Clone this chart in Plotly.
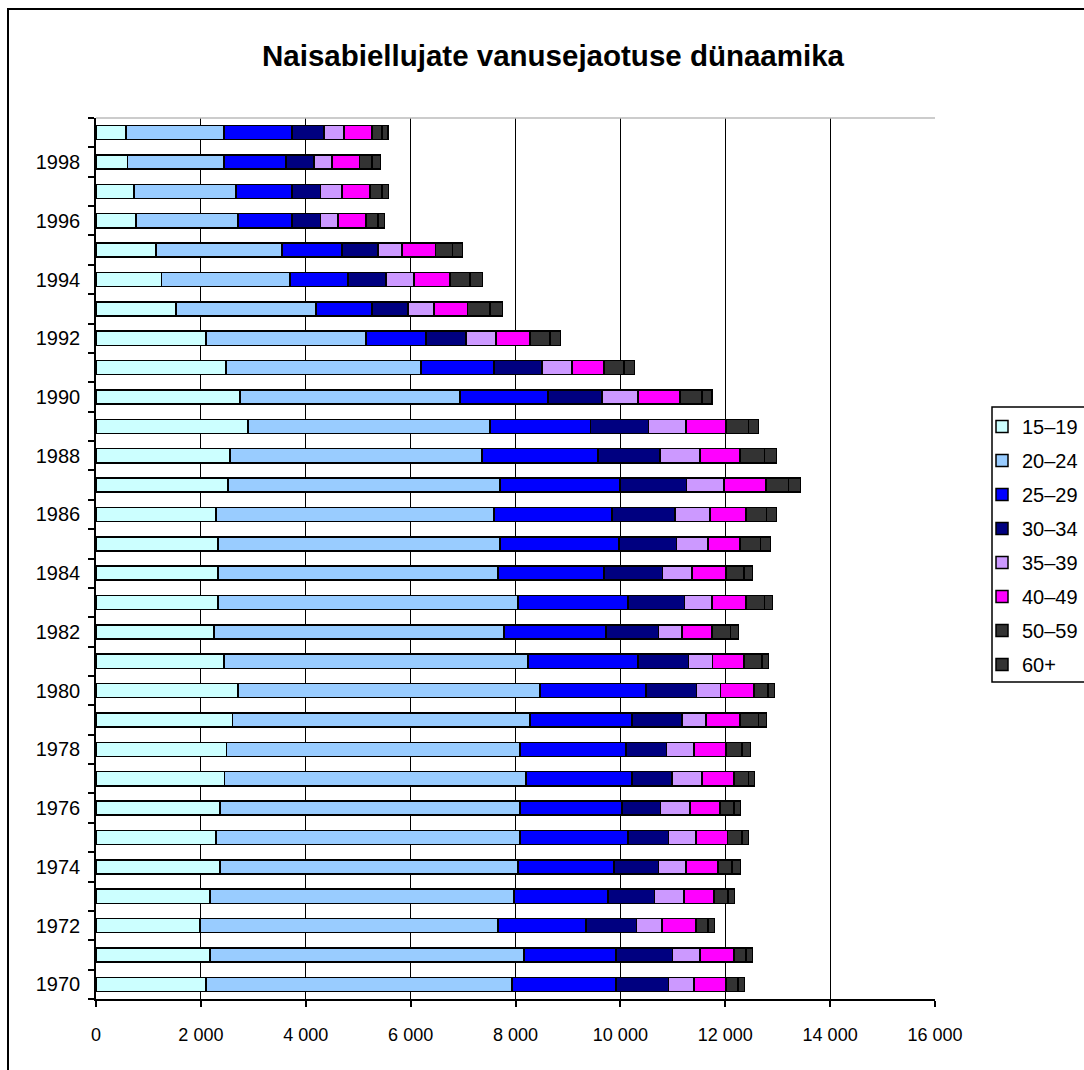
import plotly.graph_objects as go

# age-group counts of brides per year, 1970..1999
years = list(range(1970, 2000))

age_15_19 = [2098, 2174, 1983, 2174, 2365, 2288, 2365, 2447, 2486, 2600,
             2708, 2441, 2250, 2327, 2327, 2327, 2288, 2517, 2555, 2899,
             2746, 2479, 2098, 1526, 1253, 1144, 763, 725, 604, 572]
age_20_24 = [5835, 5988, 5683, 5797, 5682, 5797, 5720, 5753, 5599, 5676,
             5759, 5797, 5530, 5720, 5339, 5377, 5302, 5187, 4806, 4614,
             4195, 3719, 3051, 2669, 2447, 2403, 1945, 1945, 1837, 1869]
age_25_29 = [1983, 1754, 1678, 1793, 1831, 2060, 1945, 2021, 2022, 1945,
             2021, 2098, 1945, 2098, 2021, 2269, 2250, 2288, 2212, 1920,
             1678, 1392, 1144, 1068, 1106, 1144, 1030, 1068, 1182, 1297]
age_30_34 = [1004, 1081, 967, 890, 852, 775, 738, 763, 775, 954,
             967, 966, 1005, 1081, 1119, 1100, 1201, 1272, 1182, 1106,
             1030, 915, 763, 687, 724, 687, 546, 546, 534, 610]
age_35_39 = [484, 521, 482, 559, 521, 522, 559, 572, 522, 458,
             457, 458, 445, 521, 559, 598, 668, 712, 763, 712,
             687, 572, 572, 495, 534, 457, 331, 407, 343, 381]
age_40_49 = [610, 648, 649, 572, 610, 597, 573, 610, 610, 648,
             636, 597, 572, 648, 649, 610, 686, 801, 763, 763,
             801, 610, 648, 643, 687, 643, 534, 534, 521, 534]
age_50_59 = [229, 229, 229, 267, 267, 280, 266, 281, 305, 356,
             267, 343, 356, 357, 343, 395, 395, 432, 471, 433,
             419, 382, 382, 425, 381, 317, 229, 229, 242, 191]
age_60 = [127, 128, 127, 128, 166, 128, 128, 114, 166, 153,
          128, 128, 153, 152, 166, 190, 191, 229, 229, 190,
          191, 196, 204, 235, 235, 190, 127, 120, 159, 114]

series = [
    ("15–19", age_15_19, "#CCFFFF"),
    ("20–24", age_20_24, "#99CCFF"),
    ("25–29", age_25_29, "#0000FF"),
    ("30–34", age_30_34, "#000080"),
    ("35–39", age_35_39, "#CC99FF"),
    ("40–49", age_40_49, "#FF00FF"),
    ("50–59", age_50_59, "#333333"),
    ("60+", age_60, "#333333"),
]

fig = go.Figure()
for name, vals, color in series:
    fig.add_trace(go.Bar(
        y=years, x=vals, name=name, orientation="h", width=0.48,
        legendgroup=name,
        marker=dict(color=color, line=dict(color="black", width=1.5)),
    ))

# plot area: x 96..935, y 118..999 (pixels)
L, R, T, B = 96, 935, 118, 999
W, H = 1084, 1070
pw, ph = R - L, B - T

fig.update_layout(
    width=W, height=H,
    margin=dict(l=L, r=W - R, t=T, b=H - B, pad=0, autoexpand=False),
    barmode="stack", bargap=0.5,
    plot_bgcolor="white", paper_bgcolor="white",
    separators=", ",
    font=dict(family="Liberation Sans, Arial, sans-serif", color="black", size=20),
    title=dict(text="<b>Naisabiellujate vanusejaotuse dünaamika</b>",
               x=553 / W, xanchor="center", y=1 - 56 / H, yanchor="middle",
               font=dict(size=29.5)),
    xaxis=dict(range=[0, 16000], tickvals=list(range(0, 16001, 2000)),
               tickformat=",d", showgrid=True, gridcolor="black", gridwidth=1,
               showline=True, linecolor="black", linewidth=1.5,
               ticks="outside", ticklen=6, tickcolor="black", tickwidth=1.5,
               ticklabelstandoff=13, tickfont=dict(size=18), zeroline=False),
    yaxis=dict(range=[1969.5, 1999.5], tickvals=list(range(1970, 1999, 2)),
               showgrid=False, showline=True, linecolor="black", linewidth=1.5,
               ticks="", ticklabelstandoff=10, tickfont=dict(size=20),
               zeroline=False,
               minor=dict(tickmode="linear", tick0=1969.5, dtick=1, ticks="outside",
                          ticklen=6, tickcolor="black", tickwidth=1.5, showgrid=False)),
    legend=dict(x=(982 - L) / pw, xanchor="left", y=(B - 407) / ph, yanchor="top",
                borderwidth=0, bgcolor="rgba(0,0,0,0)",
                traceorder="grouped", tracegroupgap=5, font=dict(size=20),
                itemwidth=30),
    shapes=[
        # light top border of plot area
        dict(type="line", xref="paper", yref="paper", x0=0, x1=1, y0=1, y1=1,
             line=dict(color="#BBBBBB", width=1.5)),
        # outer chart frame
        dict(type="rect", xref="paper", yref="paper",
             x0=(8 - L) / pw, x1=(1200 - L) / pw,
             y0=(B - 1200) / ph, y1=(B - 9) / ph,
             line=dict(color="black", width=2), layer="below"),
        # legend frame (runs off the right edge like the original)
        dict(type="rect", xref="paper", yref="paper",
             x0=(992 - L) / pw, x1=(1200 - L) / pw,
             y0=(B - 682) / ph, y1=(B - 407) / ph,
             line=dict(color="black", width=1.5), fillcolor="white", layer="below"),
    ],
)

fig.write_html("out.html", config={"displayModeBar": False},
               post_script="document.body.style.margin='0';")
